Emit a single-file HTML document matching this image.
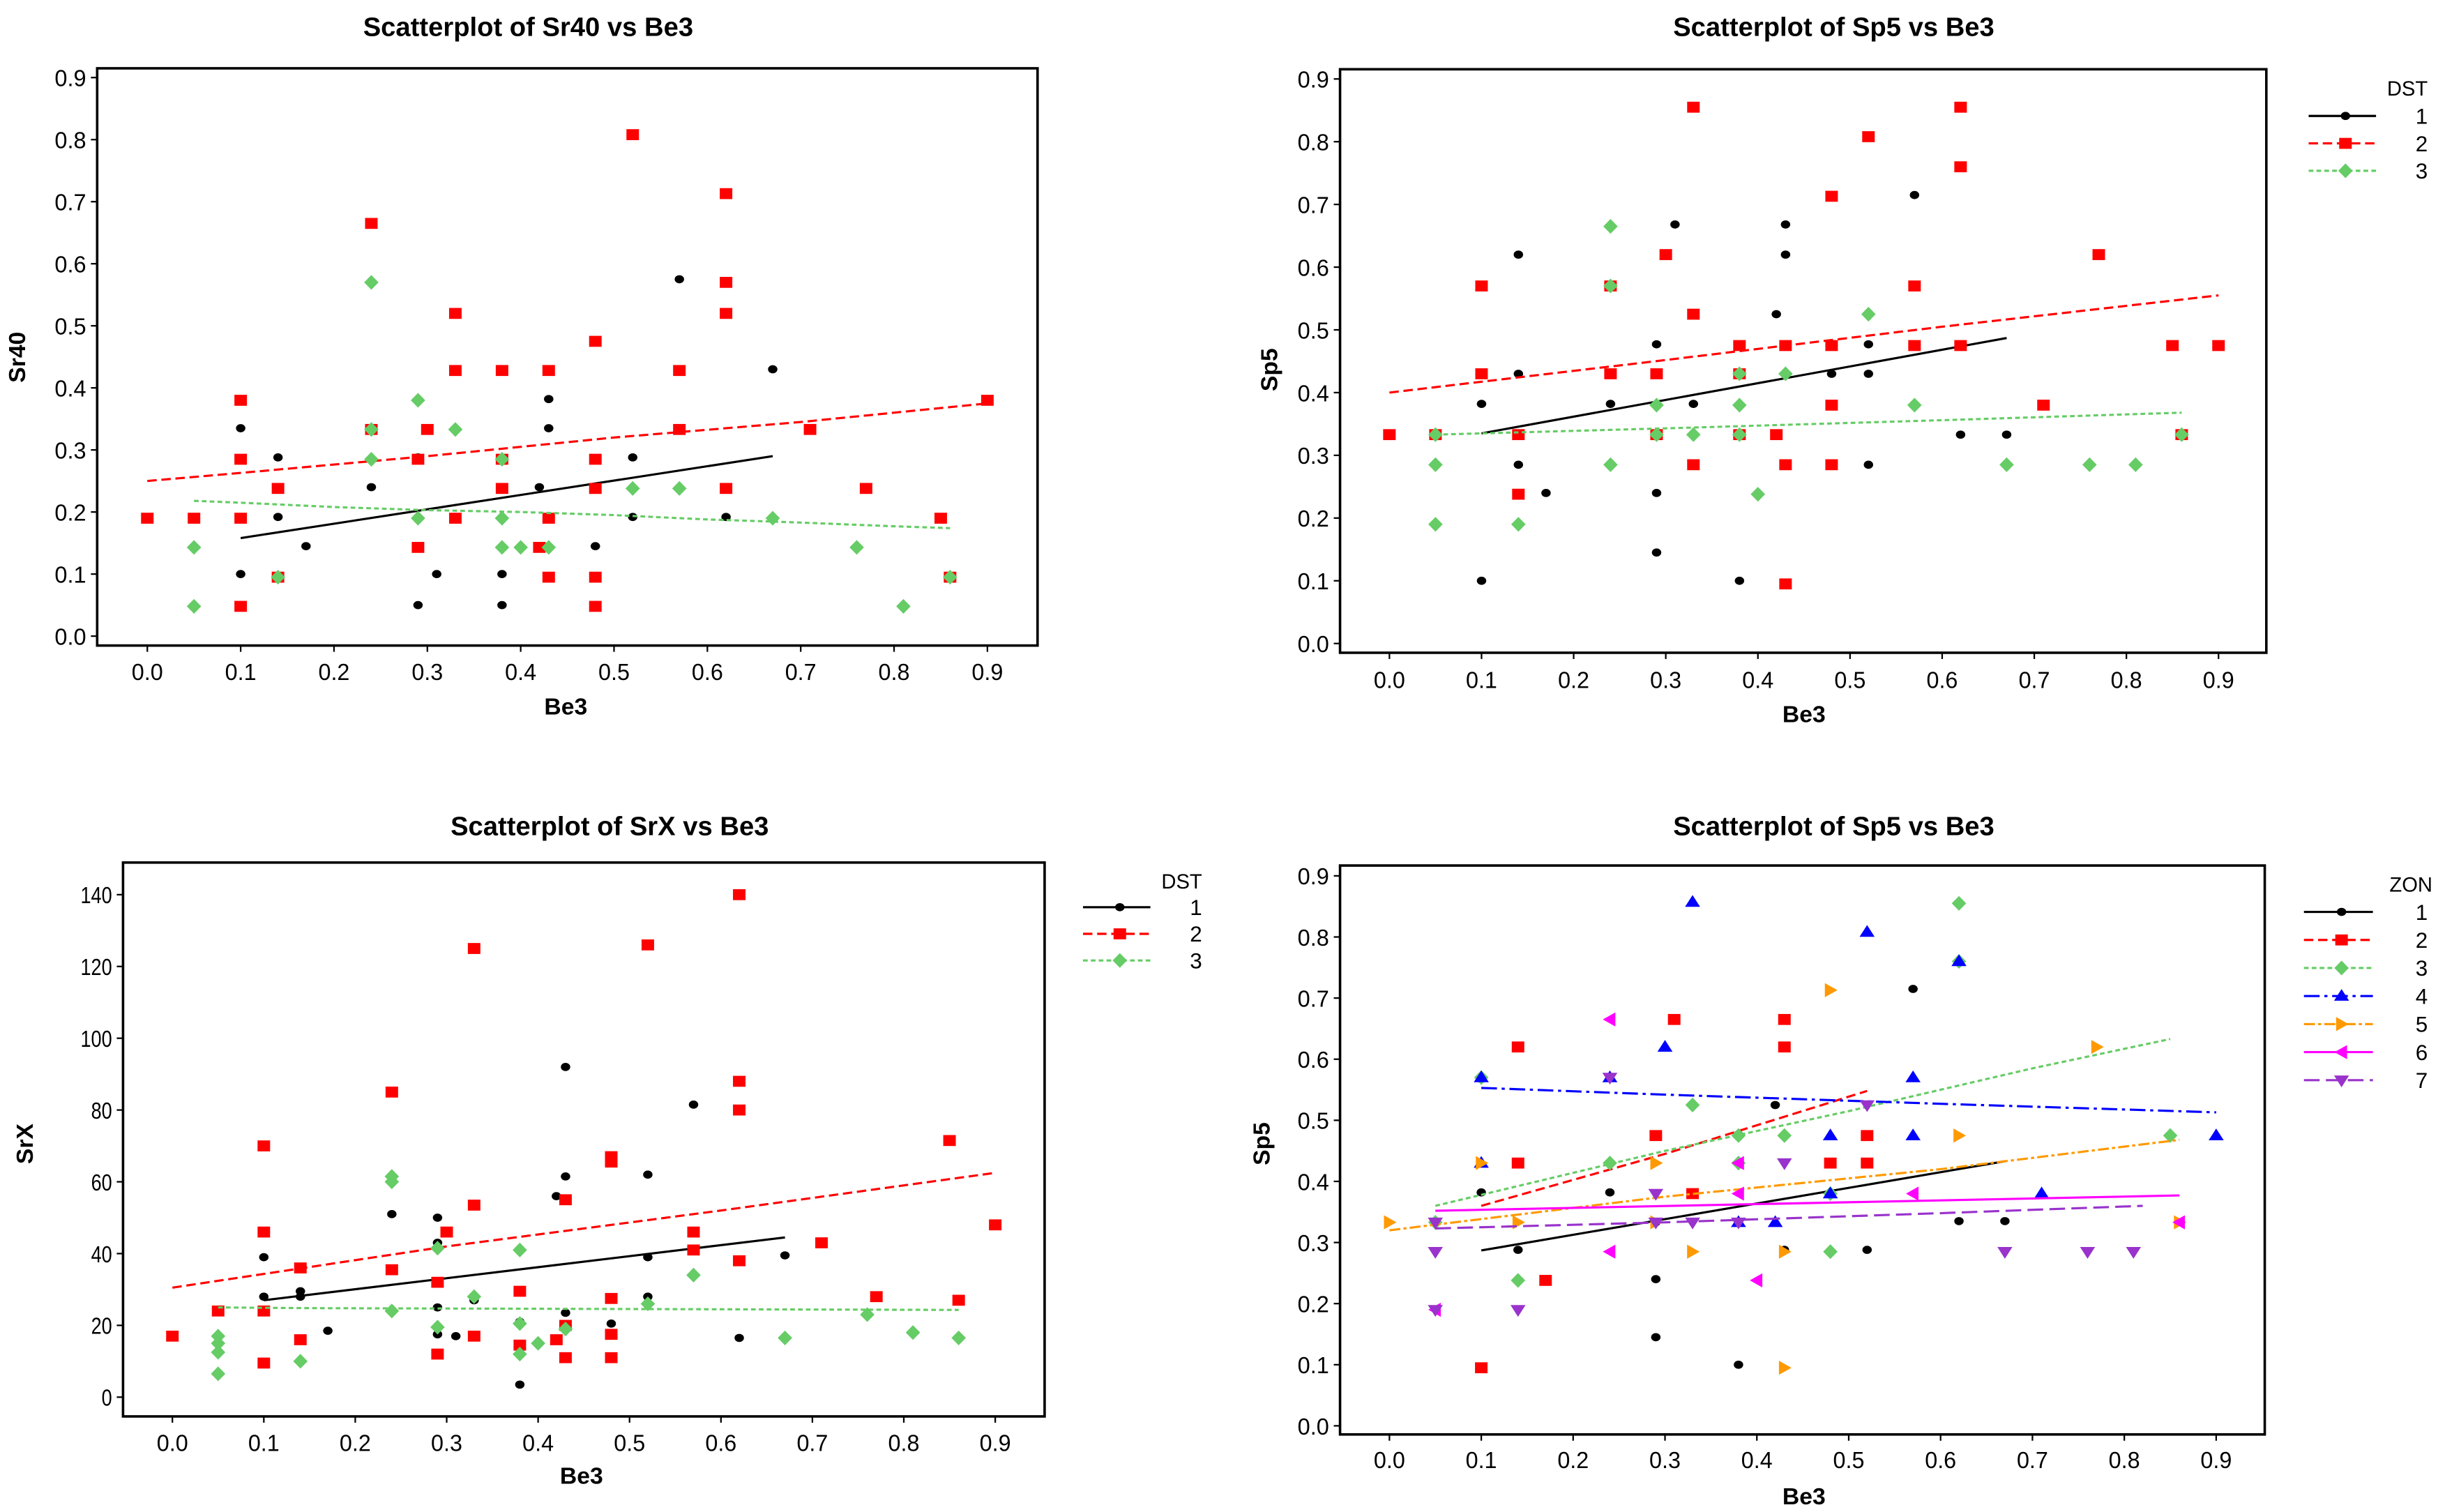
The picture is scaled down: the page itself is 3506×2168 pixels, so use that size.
<!DOCTYPE html>
<html><head><meta charset="utf-8">
<style>
html,body{margin:0;padding:0;background:#fff;}
svg{display:block;}
text{font-family:"Liberation Sans",sans-serif;}
</style></head>
<body>
<svg id="chart" xmlns="http://www.w3.org/2000/svg" width="3506" height="2168" viewBox="0 0 1560 965" preserveAspectRatio="none">
<rect x="0" y="0" width="1560" height="965" fill="#fff"/>
</svg>
<script>
// ---------- Panel 1: Sr40 vs Be3 (DST) ----------
const p1Ticks = [0.0,0.1,0.2,0.3,0.4,0.5,0.6,0.7,0.8,0.9];
const p1YTicks = [0.0,0.1,0.2,0.3,0.4,0.5,0.6,0.7,0.8,0.9];
const p1d1x=[0.1,0.1,0.14,0.14,0.14,0.17,0.24,0.29,0.29,0.29,0.31,0.38,0.38,0.42,0.43,0.43,0.43,0.48,0.52,0.52,0.57,0.62,0.67,0.33];
const p1d1y=[0.335,0.1,0.288,0.24,0.192,0.145,0.24,0.288,0.145,0.05,0.1,0.1,0.05,0.24,0.382,0.335,0.192,0.145,0.288,0.192,0.575,0.192,0.43,0.192];
const p1d2x=[0,0.05,0.1,0.1,0.1,0.1,0.14,0.14,0.24,0.24,0.29,0.29,0.3,0.33,0.33,0.33,0.38,0.38,0.38,0.42,0.43,0.43,0.43,0.48,0.48,0.48,0.48,0.48,0.52,0.57,0.57,0.62,0.62,0.62,0.62,0.71,0.77,0.85,0.9,0.86];
const p1d2y=[0.19,0.19,0.38,0.285,0.19,0.048,0.238,0.095,0.665,0.333,0.285,0.143,0.333,0.52,0.428,0.19,0.428,0.285,0.238,0.143,0.428,0.19,0.095,0.475,0.285,0.238,0.095,0.048,0.808,0.428,0.333,0.713,0.57,0.52,0.238,0.333,0.238,0.19,0.38,0.095];
const p1d3x=[0.05,0.05,0.14,0.24,0.24,0.24,0.29,0.29,0.33,0.38,0.38,0.38,0.4,0.43,0.52,0.57,0.67,0.76,0.81,0.86];
const p1d3y=[0.143,0.048,0.095,0.57,0.333,0.285,0.38,0.19,0.333,0.285,0.19,0.143,0.143,0.143,0.238,0.238,0.19,0.143,0.048,0.095];
const p1f1x=[0.1,0.67], p1f1y=[0.158,0.29];
const p1f2x=[0,0.1,0.3,0.5,0.7,0.9], p1f2y=[0.25,0.263,0.29,0.32,0.345,0.375];
const p1f3x=[0.05,0.1,0.2,0.3,0.4,0.5,0.6,0.7,0.8,0.86], p1f3y=[0.218,0.215,0.208,0.203,0.2,0.195,0.188,0.183,0.177,0.174];

// ---------- Panel 2: Sp5 vs Be3 (DST) ----------
const p2d1x=[0.1,0.1,0.14,0.14,0.14,0.17,0.24,0.29,0.29,0.29,0.29,0.31,0.33,0.38,0.38,0.42,0.43,0.43,0.43,0.48,0.52,0.52,0.52,0.57,0.62,0.67];
const p2d1y=[0.1,0.382,0.62,0.43,0.285,0.24,0.382,0.477,0.333,0.24,0.145,0.668,0.382,0.477,0.1,0.525,0.668,0.62,0.285,0.43,0.477,0.43,0.285,0.715,0.333,0.333];
const p2d2x=[0,0.05,0.1,0.1,0.14,0.14,0.24,0.24,0.29,0.29,0.3,0.33,0.33,0.33,0.38,0.38,0.38,0.42,0.43,0.43,0.43,0.48,0.48,0.48,0.48,0.52,0.57,0.57,0.62,0.62,0.62,0.71,0.77,0.85,0.9,0.86];
const p2d2y=[0.333,0.333,0.57,0.43,0.333,0.238,0.57,0.43,0.43,0.333,0.62,0.855,0.525,0.285,0.475,0.43,0.333,0.333,0.475,0.285,0.095,0.713,0.475,0.38,0.285,0.808,0.57,0.475,0.855,0.76,0.475,0.38,0.62,0.475,0.475,0.333];
const p2d3x=[0.05,0.05,0.05,0.14,0.24,0.24,0.24,0.29,0.29,0.33,0.38,0.38,0.38,0.4,0.43,0.52,0.57,0.67,0.76,0.81,0.86];
const p2d3y=[0.333,0.285,0.19,0.19,0.665,0.57,0.285,0.38,0.333,0.333,0.43,0.38,0.333,0.238,0.43,0.525,0.38,0.285,0.285,0.285,0.333];
const p2f1x=[0.1,0.67], p2f1y=[0.335,0.487];
const p2f2x=[0,0.3,0.6,0.9], p2f2y=[0.4,0.452,0.505,0.555];
const p2f3x=[0.05,0.3,0.6,0.86], p2f3y=[0.333,0.343,0.356,0.368];

// ---------- Panel 3: SrX vs Be3 (DST) ----------
const p3YTicks=[0,20,40,60,80,100,120,140];
const p3d1x=[0.1,0.1,0.14,0.14,0.17,0.24,0.29,0.29,0.29,0.29,0.31,0.33,0.38,0.38,0.42,0.43,0.43,0.43,0.48,0.52,0.52,0.52,0.57,0.62,0.67];
const p3d1y=[39,28,29.5,28,18.5,51,50,43,25,17.5,17,27,21,3.5,56,92,61.5,23.5,20.5,62,39,28,81.5,16.5,39.5];
const p3d2x=[0,0.05,0.1,0.1,0.1,0.1,0.14,0.14,0.24,0.24,0.29,0.29,0.3,0.33,0.33,0.33,0.38,0.38,0.42,0.43,0.43,0.43,0.48,0.48,0.48,0.48,0.48,0.52,0.57,0.57,0.62,0.62,0.62,0.62,0.71,0.77,0.85,0.86,0.9];
const p3d2y=[17,24,70,46,24,9.5,36,16,85,35.5,32,12,46,125,53.5,17,29.5,14.5,16,55,20,11,67,65.5,27.5,17.5,11,126,46,41,140,88,80,38,43,28,71.5,27,48];
const p3d3x=[0.05,0.05,0.05,0.05,0.14,0.24,0.24,0.24,0.29,0.29,0.33,0.38,0.38,0.38,0.4,0.43,0.52,0.57,0.67,0.76,0.81,0.86];
const p3d3y=[17,15,12.5,6.5,10,61.5,60,24,41.5,19.5,28,41,20.5,12,15,19,26,34,16.5,23,18,16.5];
const p3f1x=[0.1,0.67], p3f1y=[27,44.5];
const p3f2x=[0,0.3,0.6,0.9], p3f2y=[30.5,42,52,62.5];
const p3f3x=[0.05,0.15,0.86], p3f3y=[25,24.8,24.3];

// ---------- Panel 4: Sp5 vs Be3 (ZON) ----------
const p4z1x=[0.1,0.14,0.24,0.29,0.29,0.29,0.38,0.38,0.42,0.43,0.43,0.52,0.57,0.62,0.67];
const p4z1y=[0.382,0.288,0.382,0.24,0.145,0.333,0.1,0.477,0.525,0.62,0.288,0.288,0.715,0.335,0.335];
const p4z2x=[0.1,0.14,0.14,0.17,0.29,0.31,0.33,0.43,0.43,0.48,0.52,0.52];
const p4z2y=[0.095,0.62,0.43,0.238,0.475,0.665,0.38,0.665,0.62,0.43,0.475,0.43];
const p4z3x=[0.05,0.1,0.14,0.24,0.33,0.38,0.38,0.43,0.48,0.48,0.62,0.62,0.85];
const p4z3y=[0.333,0.57,0.238,0.43,0.525,0.475,0.43,0.475,0.38,0.285,0.855,0.76,0.475];
const p4z4x=[0.1,0.1,0.24,0.3,0.33,0.38,0.42,0.48,0.48,0.52,0.57,0.57,0.62,0.71,0.9];
const p4z4y=[0.57,0.43,0.57,0.62,0.857,0.333,0.333,0.475,0.38,0.808,0.57,0.475,0.76,0.38,0.475];
const p4z5x=[0,0.1,0.14,0.29,0.29,0.33,0.43,0.43,0.48,0.62,0.77,0.86];
const p4z5y=[0.333,0.43,0.333,0.43,0.333,0.285,0.285,0.095,0.713,0.475,0.62,0.333];
const p4z6x=[0.05,0.24,0.24,0.38,0.38,0.4,0.57,0.86];
const p4z6y=[0.19,0.665,0.285,0.43,0.38,0.238,0.38,0.333];
const p4z7x=[0.05,0.05,0.05,0.14,0.24,0.29,0.29,0.33,0.38,0.43,0.52,0.67,0.76,0.81];
const p4z7y=[0.333,0.285,0.19,0.19,0.57,0.38,0.333,0.333,0.333,0.43,0.525,0.285,0.285,0.285];
const p4f1x=[0.1,0.67], p4f1y=[0.287,0.433];
const p4f2x=[0.1,0.3,0.52], p4f2y=[0.36,0.445,0.548];
const p4f3x=[0.05,0.3,0.5,0.7,0.85], p4f3y=[0.36,0.45,0.515,0.585,0.633];
const p4f4x=[0.1,0.3,0.6,0.9], p4f4y=[0.553,0.542,0.527,0.513];
const p4f5x=[0,0.3,0.6,0.86], p4f5y=[0.32,0.375,0.42,0.468];
const p4f6x=[0.05,0.86], p4f6y=[0.352,0.377];
const p4f7x=[0.05,0.3,0.6,0.82], p4f7y=[0.323,0.333,0.348,0.36];

const NS="http://www.w3.org/2000/svg";
const svg=document.getElementById('chart');
function mk(tag,attrs,parent){const e=document.createElementNS(NS,tag);for(const k in attrs)e.setAttribute(k,attrs[k]);(parent||svg).appendChild(e);return e;}

const COL={black:'#000',red:'#ff0000',green:'#66cc66',blue:'#0000ff',orange:'#ff9900',magenta:'#ff00ff',purple:'#9933cc'};

function marker(g,shape,cx,cy,color){
  let e;
  if(shape==='circle') e=mk('ellipse',{cx:cx,cy:cy,rx:3,ry:2.6,fill:color},g);
  else if(shape==='square') e=mk('rect',{x:cx-4,y:cy-3.5,width:8,height:7,fill:color},g);
  else if(shape==='diamond') e=mk('polygon',{points:`${cx},${cy-4.7} ${cx+4.6},${cy} ${cx},${cy+4.7} ${cx-4.6},${cy}`,fill:color},g);
  else if(shape==='up') e=mk('polygon',{points:`${cx},${cy-4.5} ${cx+4.8},${cy+3} ${cx-4.8},${cy+3}`,fill:color},g);
  else if(shape==='down') e=mk('polygon',{points:`${cx},${cy+4.5} ${cx+4.8},${cy-3} ${cx-4.8},${cy-3}`,fill:color},g);
  else if(shape==='right') e=mk('polygon',{points:`${cx+4.5},${cy} ${cx-3.5},${cy-4.5} ${cx-3.5},${cy+4.5}`,fill:color},g);
  else if(shape==='left') e=mk('polygon',{points:`${cx-4.5},${cy} ${cx+3.5},${cy-4.5} ${cx+3.5},${cy+4.5}`,fill:color},g);
  return e;
}

function panel(cfg){
  const g=mk('g',{});
  
  
  const sx=v=>cfg.xp0+(v-0)/(0.9)*(cfg.xp1-cfg.xp0);
  const sy=v=>cfg.yp0+(v-cfg.ymin)/(cfg.ymax-cfg.ymin)*(cfg.yp1-cfg.yp0);
  const t=mk('text',{x:cfg.tx,y:cfg.ty,'text-anchor':'middle','font-size':17,'font-weight':'bold'},g);
  t.textContent=cfg.title;
  
  
  const box=mk('rect',{x:cfg.bx0,y:cfg.by0,width:cfg.bx1-cfg.bx0,height:cfg.by1-cfg.by0,fill:'none',stroke:'#000','stroke-width':1.6},g);
  
  
  p1Ticks.forEach(v=>{
    const x=sx(v);
    mk('line',{x1:x,y1:cfg.by1,x2:x,y2:cfg.by1+4,stroke:'#000','stroke-width':1},g);
    const l=mk('text',{x:x,y:cfg.xty,'text-anchor':'middle','font-size':15,'textLength':20,lengthAdjust:'spacingAndGlyphs'},g);
    l.textContent=v.toFixed(1);
    
    
  });
  cfg.yticks.forEach(v=>{
    const y=sy(v);
    mk('line',{x1:cfg.bx0-4,y1:y,x2:cfg.bx0,y2:y,stroke:'#000','stroke-width':1},g);
    const s=cfg.yfmt(v);
    const l=mk('text',{x:cfg.bx0-7,y:y+5.5,'text-anchor':'end','font-size':15,'textLength':s.length*6.7,lengthAdjust:'spacingAndGlyphs'},g);
    l.textContent=s;
    
    
  });
  const xl=mk('text',{x:cfg.xlx,y:cfg.xly,'text-anchor':'middle','font-size':15,'font-weight':'bold'},g);
  xl.textContent='Be3';
  
  
  const yl=mk('text',{x:0,y:0,'text-anchor':'middle','font-size':15,'font-weight':'bold',transform:`translate(${cfg.ylx},${cfg.yly}) rotate(-90)`},g);
  yl.textContent=cfg.ylabel;
  
  
  cfg.series.forEach(s=>{
    const sg=mk('g',{},g);
    
    
    const pts=s.fx.map((v,i)=>sx(v)+','+sy(s.fy[i])).join(' ');
    const fl=mk('polyline',{points:pts,fill:'none',stroke:COL[s.color],'stroke-width':1.4,'stroke-dasharray':s.dash||'none'},sg);
    
    
    s.x.forEach((v,i)=>{
      const m=marker(sg,s.shape,sx(v),sy(s.y[i]),COL[s.color]);
      
      
    });
  });
  if(cfg.legend){
    const L=cfg.legend;
    const lg=mk('g',{},g);
    
    
    const h=mk('text',{x:L.hx,y:L.hy+5,'text-anchor':'end','font-size':13},lg);
    h.textContent=L.title;
    
    
    cfg.series.forEach((s,i)=>{
      const y=L.y0+i*L.dy;
      const e=mk('g',{},lg);
      
      
      mk('line',{x1:L.lx0,y1:y,x2:L.lx1,y2:y,stroke:COL[s.color],'stroke-width':1.4,'stroke-dasharray':s.dash||'none'},e);
      marker(e,s.shape,(L.lx0+L.lx1)/2+2,y,COL[s.color]);
      const tt=mk('text',{x:L.tx,y:y+5,'text-anchor':'end','font-size':14},e);
      tt.textContent=s.label;
    });
  }
}

const fmt1=v=>v.toFixed(1), fmt0=v=>String(v);

panel({name:'panel-sr40-vs-be3',title:'Scatterplot of Sr40 vs Be3',tx:337,ty:23,
  bx0:62,by0:43.6,bx1:662,by1:412,xp0:94,xp1:630,yp0:406,yp1:49.5,ymin:0,ymax:0.9,xty:434,
  yticks:p1YTicks,yfmt:fmt1,xlx:361,xly:456,ylx:16,yly:228,ylabel:'Sr40',legend:null,
  series:[
    {label:'1',color:'black',shape:'circle',x:p1d1x,y:p1d1y,fx:p1f1x,fy:p1f1y,dash:null},
    {label:'2',color:'red',shape:'square',x:p1d2x,y:p1d2y,fx:p1f2x,fy:p1f2y,dash:'6,3'},
    {label:'3',color:'green',shape:'diamond',x:p1d3x,y:p1d3y,fx:p1f3x,fy:p1f3y,dash:'3,2'}]});

panel({name:'panel-sp5-vs-be3-dst',title:'Scatterplot of Sp5 vs Be3',tx:1170,ty:23,
  bx0:855,by0:44.2,bx1:1446,by1:416.6,xp0:886.5,xp1:1415.5,yp0:410.7,yp1:50.4,ymin:0,ymax:0.9,xty:439,
  yticks:p1YTicks,yfmt:fmt1,xlx:1151,xly:461,ylx:815,yly:236,ylabel:'Sp5',
  legend:{title:'DST',hx:1549,hy:56,y0:74,dy:17.5,lx0:1473,lx1:1516,tx:1549},
  series:[
    {label:'1',color:'black',shape:'circle',x:p2d1x,y:p2d1y,fx:p2f1x,fy:p2f1y,dash:null},
    {label:'2',color:'red',shape:'square',x:p2d2x,y:p2d2y,fx:p2f2x,fy:p2f2y,dash:'6,3'},
    {label:'3',color:'green',shape:'diamond',x:p2d3x,y:p2d3y,fx:p2f3x,fy:p2f3y,dash:'3,2'}]});

panel({name:'panel-srx-vs-be3',title:'Scatterplot of SrX vs Be3',tx:389,ty:533,
  bx0:78.5,by0:550.5,bx1:666.5,by1:904,xp0:110,xp1:635,yp0:891.7,yp1:571,ymin:0,ymax:140,xty:926,
  yticks:p3YTicks,yfmt:fmt0,xlx:371,xly:947,ylx:21,yly:730,ylabel:'SrX',
  legend:{title:'DST',hx:767,hy:562,y0:579,dy:17,lx0:691,lx1:734,tx:767},
  series:[
    {label:'1',color:'black',shape:'circle',x:p3d1x,y:p3d1y,fx:p3f1x,fy:p3f1y,dash:null},
    {label:'2',color:'red',shape:'square',x:p3d2x,y:p3d2y,fx:p3f2x,fy:p3f2y,dash:'6,3'},
    {label:'3',color:'green',shape:'diamond',x:p3d3x,y:p3d3y,fx:p3f3x,fy:p3f3y,dash:'3,2'}]});

panel({name:'panel-sp5-vs-be3-zon',title:'Scatterplot of Sp5 vs Be3',tx:1170,ty:533,
  bx0:855,by0:552.4,bx1:1445,by1:915.5,xp0:886.5,xp1:1414,yp0:910,yp1:559,ymin:0,ymax:0.9,xty:937,
  yticks:p1YTicks,yfmt:fmt1,xlx:1151,xly:960,ylx:810,yly:730,ylabel:'Sp5',
  legend:{title:'ZON',hx:1552,hy:564,y0:582,dy:17.9,lx0:1470,lx1:1514,tx:1549},
  series:[
    {label:'1',color:'black',shape:'circle',x:p4z1x,y:p4z1y,fx:p4f1x,fy:p4f1y,dash:null},
    {label:'2',color:'red',shape:'square',x:p4z2x,y:p4z2y,fx:p4f2x,fy:p4f2y,dash:'6,3'},
    {label:'3',color:'green',shape:'diamond',x:p4z3x,y:p4z3y,fx:p4f3x,fy:p4f3y,dash:'3,2'},
    {label:'4',color:'blue',shape:'up',x:p4z4x,y:p4z4y,fx:p4f4x,fy:p4f4y,dash:'10,3,2,3'},
    {label:'5',color:'orange',shape:'right',x:p4z5x,y:p4z5y,fx:p4f5x,fy:p4f5y,dash:'7,2,2,2'},
    {label:'6',color:'magenta',shape:'left',x:p4z6x,y:p4z6y,fx:p4f6x,fy:p4f6y,dash:null},
    {label:'7',color:'purple',shape:'down',x:p4z7x,y:p4z7y,fx:p4f7x,fy:p4f7y,dash:'10,4'}]});
</script>
</body></html>
